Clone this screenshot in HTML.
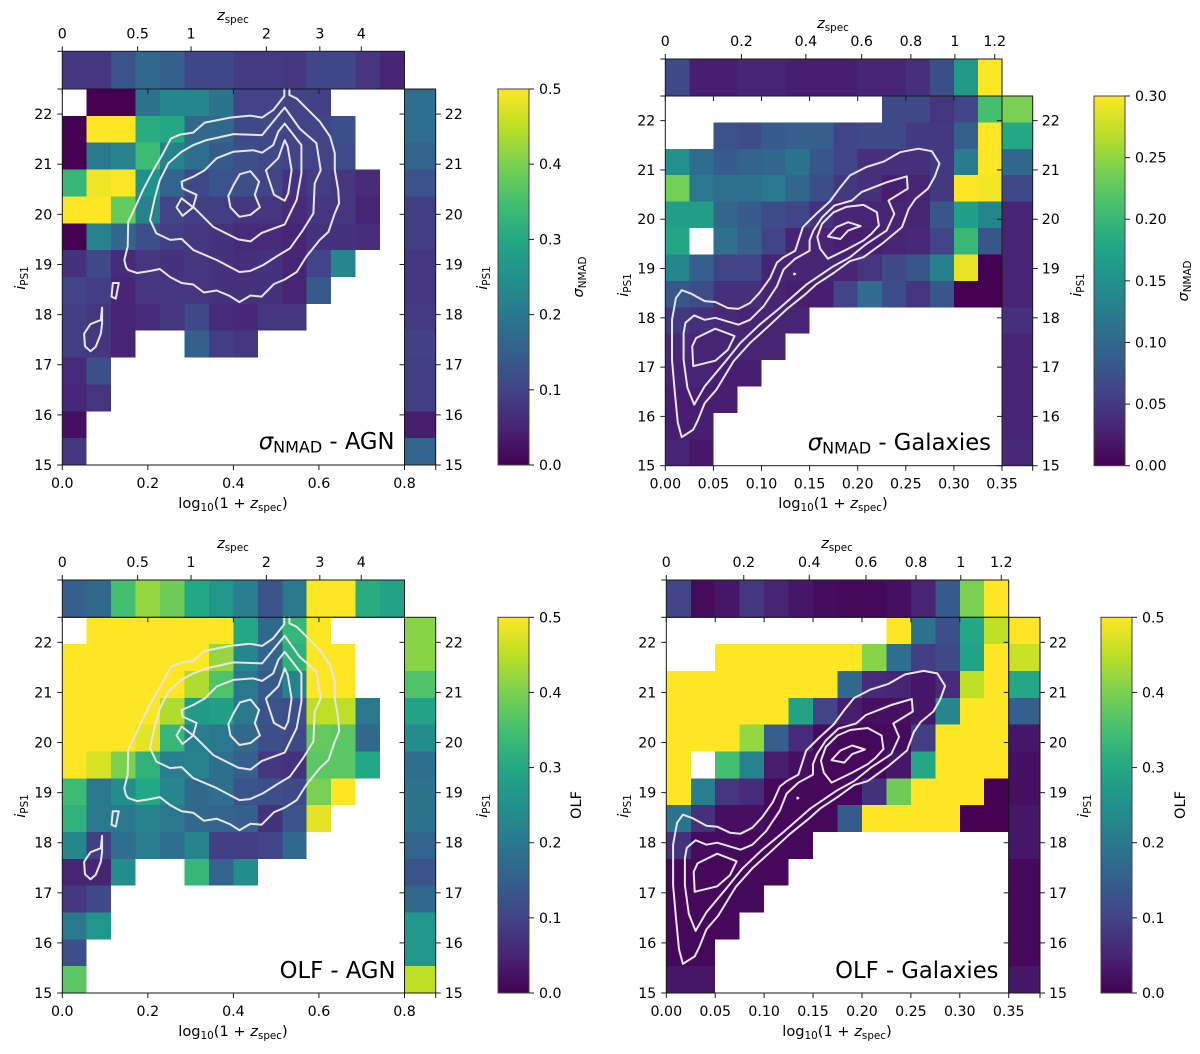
<!DOCTYPE html>
<html lang="en">
<head>
<meta charset="utf-8">
<title>Photo-z scatter and outlier fraction maps</title>
<style>
  html, body { margin: 0; padding: 0; background: #fff; }
  svg { display: block; }
  text { font-family: "DejaVu Sans", "Liberation Sans", sans-serif; font-size: 14.2px; fill: #000; }
  text.title { font-size: 14.6px; }
  text.title tspan.sub { font-size: 10.4px; }
  text.note { font-size: 22.7px; }
  text.note tspan.sub { font-size: 16px; }
</style>
</head>
<body>
<svg id="figure" xmlns="http://www.w3.org/2000/svg" width="1200" height="1054" viewBox="0 0 1200 1054">
  <defs>
    <linearGradient id="viridis-gradient" x1="0" y1="1" x2="0" y2="0">
      <stop offset="0" stop-color="#440154"/>
      <stop offset="0.1" stop-color="#482475"/>
      <stop offset="0.2" stop-color="#414487"/>
      <stop offset="0.3" stop-color="#355f8d"/>
      <stop offset="0.4" stop-color="#2a788e"/>
      <stop offset="0.5" stop-color="#21918c"/>
      <stop offset="0.6" stop-color="#22a884"/>
      <stop offset="0.7" stop-color="#44bf70"/>
      <stop offset="0.8" stop-color="#7ad151"/>
      <stop offset="0.9" stop-color="#bddf26"/>
      <stop offset="1" stop-color="#fde725"/>
    </linearGradient>
  </defs>
  <rect x="0" y="0" width="1200" height="1054" fill="#fff"/>

  <g id="panel-sigma-agn"></g>
  <g id="panel-sigma-gal"></g>
  <g id="panel-olf-agn"></g>
  <g id="panel-olf-gal"></g>

  <!-- top axis titles -->
  <text class="title" x="233" y="20" text-anchor="middle"><tspan font-style="italic">z</tspan><tspan class="sub" dy="3">spec</tspan></text>
  <text class="title" x="833" y="28" text-anchor="middle"><tspan font-style="italic">z</tspan><tspan class="sub" dy="3">spec</tspan></text>
  <text class="title" x="233" y="548" text-anchor="middle"><tspan font-style="italic">z</tspan><tspan class="sub" dy="3">spec</tspan></text>
  <text class="title" x="837" y="548" text-anchor="middle"><tspan font-style="italic">z</tspan><tspan class="sub" dy="3">spec</tspan></text>

  <!-- bottom axis titles -->
  <text class="title" x="233" y="508" text-anchor="middle">log<tspan class="sub" dy="3">10</tspan><tspan dy="-3">(1 + </tspan><tspan font-style="italic">z</tspan><tspan class="sub" dy="3">spec</tspan><tspan dy="-3">)</tspan></text>
  <text class="title" x="833" y="508" text-anchor="middle">log<tspan class="sub" dy="3">10</tspan><tspan dy="-3">(1 + </tspan><tspan font-style="italic">z</tspan><tspan class="sub" dy="3">spec</tspan><tspan dy="-3">)</tspan></text>
  <text class="title" x="233" y="1036" text-anchor="middle">log<tspan class="sub" dy="3">10</tspan><tspan dy="-3">(1 + </tspan><tspan font-style="italic">z</tspan><tspan class="sub" dy="3">spec</tspan><tspan dy="-3">)</tspan></text>
  <text class="title" x="837" y="1036" text-anchor="middle">log<tspan class="sub" dy="3">10</tspan><tspan dy="-3">(1 + </tspan><tspan font-style="italic">z</tspan><tspan class="sub" dy="3">spec</tspan><tspan dy="-3">)</tspan></text>

  <!-- y axis titles -->
  <text class="title" transform="translate(25 278) rotate(-90)" text-anchor="middle"><tspan font-style="italic">i</tspan><tspan class="sub" dy="3">PS1</tspan></text>
  <text class="title" transform="translate(487 278) rotate(-90)" text-anchor="middle"><tspan font-style="italic">i</tspan><tspan class="sub" dy="3">PS1</tspan></text>
  <text class="title" transform="translate(628 285) rotate(-90)" text-anchor="middle"><tspan font-style="italic">i</tspan><tspan class="sub" dy="3">PS1</tspan></text>
  <text class="title" transform="translate(1081 285) rotate(-90)" text-anchor="middle"><tspan font-style="italic">i</tspan><tspan class="sub" dy="3">PS1</tspan></text>
  <text class="title" transform="translate(25 806) rotate(-90)" text-anchor="middle"><tspan font-style="italic">i</tspan><tspan class="sub" dy="3">PS1</tspan></text>
  <text class="title" transform="translate(487 806) rotate(-90)" text-anchor="middle"><tspan font-style="italic">i</tspan><tspan class="sub" dy="3">PS1</tspan></text>
  <text class="title" transform="translate(628 806) rotate(-90)" text-anchor="middle"><tspan font-style="italic">i</tspan><tspan class="sub" dy="3">PS1</tspan></text>
  <text class="title" transform="translate(1088 806) rotate(-90)" text-anchor="middle"><tspan font-style="italic">i</tspan><tspan class="sub" dy="3">PS1</tspan></text>

  <!-- colorbar titles -->
  <text class="title" transform="translate(583 277) rotate(-90)" text-anchor="middle"><tspan font-style="italic">σ</tspan><tspan class="sub" dy="3">NMAD</tspan></text>
  <text class="title" transform="translate(1188 281) rotate(-90)" text-anchor="middle"><tspan font-style="italic">σ</tspan><tspan class="sub" dy="3">NMAD</tspan></text>
  <text class="title" transform="translate(581 805) rotate(-90)" text-anchor="middle">OLF</text>
  <text class="title" transform="translate(1185 805) rotate(-90)" text-anchor="middle">OLF</text>

  <!-- panel annotations -->
  <text class="note" x="394.5" y="449" text-anchor="end"><tspan font-style="italic">σ</tspan><tspan class="sub" dy="3.6">NMAD</tspan><tspan dy="-3.6"> - AGN</tspan></text>
  <text class="note" x="991" y="450" text-anchor="end"><tspan font-style="italic">σ</tspan><tspan class="sub" dy="3.6">NMAD</tspan><tspan dy="-3.6"> - Galaxies</tspan></text>
  <text class="note" x="395.5" y="978" text-anchor="end">OLF - AGN</text>
  <text class="note" x="998.5" y="978" text-anchor="end">OLF - Galaxies</text>
</svg>

<script>
const n = null;

/* ---------- tick values ---------- */
const yTicks = [15, 16, 17, 18, 19, 20, 21, 22];
const xTicksAgn = [0, 0.2, 0.4, 0.6, 0.8];
const xTicksGal = [0, 0.05, 0.10, 0.15, 0.20, 0.25, 0.30, 0.35];
const zTicksAgn = [0, 0.5, 1, 2, 3, 4];
const zTicksGal = [0, 0.2, 0.4, 0.6, 0.8, 1, 1.2];
const cbarTicksHalf = [0, 0.1, 0.2, 0.3, 0.4, 0.5];
const cbarTicksSigmaGal = [0, 0.05, 0.10, 0.15, 0.20, 0.25, 0.30];

/* ---------- sigma_NMAD, AGN (rows run from i = 22.5 down to 15) ---------- */
const sigmaAgnGrid = [
  [n, 0, 0, .19, .23, .23, .19, .10, .10, .10, .095, n, n, n],
  [0, .5, .5, .31, .30, .17, .17, .11, .11, .10, .10, .12, n, n],
  [0, .2, .22, .34, .22, .18, .14, .12, .11, .10, .10, .115, n, n],
  [.33, .49, .5, .25, .16, .11, .13, .12, .10, .07, .09, .08, .06, n],
  [.5, .5, .38, .22, .10, .09, .09, .08, .08, .06, .08, .08, .05, n],
  [0, .22, .16, .12, .09, .08, .07, .06, .06, .05, .07, .07, .065, n],
  [.07, .11, .06, .08, .07, .08, .07, .065, .07, .05, .10, .23, n, n],
  [.10, .09, .05, .08, .08, .08, .07, .07, .07, .05, .14, n, n, n],
  [.09, .08, .05, .06, .08, .11, .06, .055, .08, .08, n, n, n, n],
  [.09, .08, .05, n, n, .15, .09, .08, n, n, n, n, n, n],
  [.06, .12, n, n, n, n, n, n, n, n, n, n, n, n],
  [.055, .075, n, n, n, n, n, n, n, n, n, n, n, n],
  [.02, n, n, n, n, n, n, n, n, n, n, n, n, n],
  [.08, n, n, n, n, n, n, n, n, n, n, n, n, n]
];
const sigmaAgnTop = [.08, .08, .13, .17, .15, .105, .105, .085, .085, .08, .105, .105, .075, .05];
const sigmaAgnRight = [.18, .18, .16, .125, .09, .09, .08, .08, .085, .095, .09, .09, .04, .16];

/* ---------- sigma_NMAD, galaxies ---------- */
const sigmaGalGrid = [
  [n, n, n, n, n, n, n, n, n, .066, .066, .045, .06, .21],
  [n, n, .075, .07, .085, .09, .09, .06, .065, .065, .05, .05, .09, .30],
  [.15, .105, .085, .095, .10, .115, .08, .06, .04, .04, .04, .05, .125, .30],
  [.235, .12, .11, .11, .12, .10, .07, .05, .04, .025, .03, .05, .30, .295],
  [.165, .165, .10, .085, .07, .06, .04, .03, .03, .03, .03, .08, .17, .135],
  [.175, n, .11, .09, .06, .03, .03, .025, .025, .03, .035, .06, .20, .08],
  [.135, .09, .06, .06, .03, .03, .03, .03, .045, .065, .08, .13, .29, 0],
  [.08, .07, .04, .04, .03, .025, .025, .06, .105, .07, .045, .08, 0, 0],
  [.05, .04, .035, .03, .03, .03, n, n, n, n, n, n, n, n],
  [.035, .03, .03, .03, .03, n, n, n, n, n, n, n, n, n],
  [.03, .03, .025, .025, n, n, n, n, n, n, n, n, n, n],
  [.025, .025, .025, n, n, n, n, n, n, n, n, n, n, n],
  [.025, .025, n, n, n, n, n, n, n, n, n, n, n, n],
  [.03, .02, n, n, n, n, n, n, n, n, n, n, n, n]
];
const sigmaGalTop = [.065, .025, .025, .03, .03, .025, .025, .025, .03, .03, .04, .07, .16, .30];
const sigmaGalRight = [.24, .18, .10, .065, .03, .03, .03, .03, .04, .03, .03, .03, .03, .035];

/* ---------- outlier fraction, AGN ---------- */
const olfAgnGrid = [
  [n, .5, .5, .5, .5, .5, .5, .30, .17, .33, .5, n, n, n],
  [.5, .5, .5, .5, .5, .5, .42, .23, .16, .32, .5, .5, n, n],
  [.5, .5, .5, .5, .5, .44, .36, .20, .14, .22, .5, .5, n, n],
  [.5, .5, .5, .5, .44, .27, .28, .20, .13, .12, .45, .45, .20, n],
  [.5, .5, .5, .48, .33, .21, .20, .17, .12, .11, .38, .37, .17, n],
  [.5, .47, .40, .32, .21, .22, .18, .15, .08, .07, .37, .37, .30, n],
  [.34, .20, .24, .30, .23, .17, .18, .13, .12, .11, .40, .5, n, n],
  [.32, .20, .20, .22, .20, .17, .16, .15, .07, .13, .48, n, n, n],
  [.23, .09, .18, .21, .18, .22, .09, .09, .10, .17, n, n, n, n],
  [.05, .05, .24, n, n, .33, .16, .24, n, n, n, n, n, n],
  [.08, .11, n, n, n, n, n, n, n, n, n, n, n, n],
  [.20, .26, n, n, n, n, n, n, n, n, n, n, n, n],
  [.12, n, n, n, n, n, n, n, n, n, n, n, n, n],
  [.37, n, n, n, n, n, n, n, n, n, n, n, n, n]
];
const olfAgnTop = [.15, .17, .35, .42, .39, .30, .26, .21, .13, .20, .5, .5, .31, .29];
const olfAgnRight = [.41, .41, .36, .29, .24, .18, .19, .19, .16, .13, .17, .26, .26, .45];

/* ---------- outlier fraction, galaxies ---------- */
const olfGalGrid = [
  [n, n, n, n, n, n, n, n, n, .5, .19, .12, .30, .45],
  [n, n, .5, .5, .5, .5, .5, .5, .41, .18, .09, .11, .29, .5],
  [.5, .5, .5, .5, .5, .5, .5, .17, .06, .05, .03, .06, .45, .5],
  [.5, .5, .5, .5, .5, .29, .10, .04, .02, .02, .03, .23, .5, .5],
  [.5, .5, .5, .42, .15, .06, .015, .01, .01, .015, .09, .5, .5, .5],
  [.5, n, .35, .22, .04, .02, .01, .01, .01, .03, .30, .5, .5, .5],
  [.5, .21, .08, .06, .01, .01, .01, .01, .07, .39, .5, .5, .5, 0],
  [.19, .07, .02, .02, .01, .01, .01, .14, .5, .5, .5, .5, 0, 0],
  [.07, .015, .015, .01, .01, .01, n, n, n, n, n, n, n, n],
  [.01, .01, .01, .01, .01, n, n, n, n, n, n, n, n, n],
  [.01, .01, .01, .01, n, n, n, n, n, n, n, n, n, n],
  [.01, .01, .01, n, n, n, n, n, n, n, n, n, n, n],
  [.01, .01, n, n, n, n, n, n, n, n, n, n, n, n],
  [.03, .03, n, n, n, n, n, n, n, n, n, n, n, n]
];
const olfGalTop = [.10, .015, .03, .08, .05, .03, .015, .01, .01, .02, .05, .14, .40, .5];
const olfGalRight = [.5, .46, .30, .15, .03, .02, .02, .03, .03, .01, .01, .01, .01, .03];

/* ---------- density contours: [log10(1+z), i] ---------- */
const agnContourLevel1 = [[.519,22.5],[.519,22.36],[.493,22.08],[.467,21.93],[.439,21.97],[.392,21.93],[.333,21.83],[.306,21.63],[.275,21.59],[.254,21.51],[.236,21.22],[.213,20.88],[.189,20.49],[.171,20.15],[.154,19.85],[.153,19.36],[.145,19.09],[.149,18.95],[.154,18.89],[.175,18.83],[.205,18.87],[.228,18.91],[.252,18.75],[.279,18.63],[.306,18.60],[.331,18.44],[.361,18.48],[.392,18.37],[.414,18.25],[.44,18.38],[.466,18.36],[.495,18.61],[.52,18.70],[.548,18.85],[.571,19.16],[.602,19.49],[.622,19.65],[.637,20.02],[.647,20.22],[.645,20.49],[.637,20.88],[.637,21.22],[.626,21.55],[.602,21.85],[.575,22.08],[.548,22.31],[.531,22.38],[.531,22.5]];
const agnContourLevel2 = [[.52,22.13],[.467,21.58],[.4,21.6],[.337,21.48],[.306,21.38],[.279,21.25],[.248,21.02],[.228,20.68],[.217,20.35],[.205,19.89],[.22,19.62],[.252,19.49],[.279,19.51],[.306,19.29],[.361,19.09],[.414,18.85],[.439,18.87],[.47,18.99],[.501,19.16],[.532,19.32],[.563,19.69],[.587,20.02],[.59,20.62],[.604,20.88],[.594,21.42],[.555,21.71],[.52,22.13]];
const agnContourLevel3 = [[.52,21.81],[.505,21.65],[.493,21.38],[.467,21.23],[.446,21.28],[.4,21.25],[.361,21.12],[.333,20.88],[.306,20.75],[.279,20.65],[.281,20.52],[.314,20.39],[.306,20.15],[.353,19.75],[.411,19.5],[.44,19.46],[.466,19.63],[.52,19.8],[.548,20.29],[.559,20.82],[.559,21.38],[.52,21.81]];
const agnContourIsland = [[.279,20.32],[.267,20.14],[.281,19.97],[.306,20.14],[.279,20.32]];
const agnContourPeakLeft = [[.415,20.8],[.44,20.86],[.46,20.65],[.45,20.39],[.462,20.14],[.44,19.99],[.414,19.95],[.393,20.14],[.388,20.37],[.4,20.58],[.415,20.8]];
const agnContourPeakRight = [[.52,21.48],[.527,21.35],[.536,20.88],[.528,20.42],[.52,20.27],[.495,20.39],[.481,20.75],[.476,20.88],[.505,21.12],[.52,21.48]];
const agnContourLowSmall = [[.118,18.63],[.132,18.63],[.125,18.32],[.115,18.36],[.118,18.63]];
const agnContourLowLarge = [[.093,18.14],[.093,17.82],[.09,17.62],[.078,17.36],[.066,17.27],[.053,17.37],[.051,17.62],[.066,17.81],[.09,17.89],[.093,18.14]];
const agnContours = [agnContourLevel1, agnContourLevel2, agnContourLevel3, agnContourIsland, agnContourPeakLeft, agnContourPeakRight, agnContourLowSmall, agnContourLowLarge];

const galContourLevel1 = [[.017,15.58],[.013,15.87],[.010,16.47],[.007,17.15],[.007,17.96],[.011,18.40],[.017,18.56],[.027,18.49],[.041,18.34],[.052,18.32],[.065,18.20],[.076,18.18],[.088,18.30],[.098,18.51],[.109,18.81],[.116,19.12],[.123,19.23],[.135,19.36],[.143,19.84],[.157,20.11],[.171,20.36],[.182,20.65],[.192,20.89],[.209,21.06],[.227,21.17],[.244,21.36],[.263,21.43],[.277,21.38],[.285,21.13],[.280,20.86],[.273,20.62],[.260,20.41],[.253,20.21],[.246,19.84],[.227,19.53],[.206,19.23],[.192,19.15],[.175,18.91],[.157,18.68],[.145,18.47],[.126,18.17],[.109,17.86],[.088,17.49],[.071,17.12],[.053,16.54],[.041,16.27],[.034,15.93],[.029,15.73],[.017,15.58]];
const galContourLevel2 = [[.030,16.24],[.023,16.58],[.019,17.15],[.019,17.69],[.021,17.90],[.030,18.05],[.041,17.96],[.052,18.0],[.076,17.86],[.088,17.96],[.102,18.23],[.116,18.64],[.123,18.98],[.135,19.2],[.150,19.36],[.150,19.57],[.154,19.77],[.163,20.04],[.176,20.28],[.194,20.38],[.204,20.55],[.230,20.75],[.251,20.87],[.252,20.62],[.232,20.38],[.238,20.11],[.230,19.77],[.209,19.5],[.192,19.23],[.175,19.05],[.147,18.68],[.119,18.2],[.098,17.86],[.078,17.49],[.064,17.15],[.041,16.61],[.030,16.24]];
const galContourLevel3 = [[.169,19.2],[.161,19.4],[.158,19.64],[.163,19.91],[.175,20.14],[.188,20.25],[.206,20.29],[.22,20.14],[.222,19.87],[.214,19.7],[.206,19.57],[.19,19.4],[.169,19.2]];
const galContourPeak = [[.178,19.84],[.19,19.94],[.203,19.86],[.19,19.77],[.182,19.6],[.169,19.65],[.178,19.84]];
const galContourLowPeak = [[.029,17.02],[.028,17.42],[.032,17.59],[.052,17.78],[.072,17.63],[.065,17.35],[.052,17.13],[.029,17.02]];
const galContourSpeck = [[.134,18.88],[.135,18.89],[.134,18.90],[.134,18.88]];
const galContours = [galContourLevel1, galContourLevel2, galContourLevel3, galContourPeak, galContourLowPeak, galContourSpeck];

/* ---------- colormap ---------- */
const viridisStops = [[68,1,84],[72,36,117],[65,68,135],[53,95,141],[42,120,142],[33,145,140],[34,168,132],[68,191,112],[122,209,81],[189,223,38],[253,231,37]];

function viridis(t) {
  const c = Math.max(0, Math.min(1, t)) * (viridisStops.length - 1);
  const i = Math.min(Math.floor(c), viridisStops.length - 2);
  const f = c - i;
  const a = viridisStops[i], b = viridisStops[i + 1];
  return 'rgb(' + a.map((v, k) => Math.round(v + (b[k] - v) * f)).join(',') + ')';
}

const SVG_NS = 'http://www.w3.org/2000/svg';
const I_FAINT = 15, I_BRIGHT = 22.5;
const INK = '#1a1a1a';

function make(parent, tag, attrs) {
  const el = document.createElementNS(SVG_NS, tag);
  for (const key in attrs) el.setAttribute(key, attrs[key]);
  parent.appendChild(el);
  return el;
}

function drawPanel(p) {
  const root = document.getElementById(p.id);
  const xAxis = v => p.left + (v / p.xMax) * (p.right - p.left);
  const yAxis = v => p.top + ((I_BRIGHT - v) / (I_BRIGHT - I_FAINT)) * (p.bottom - p.top);
  const zAxis = z => xAxis(Math.log10(1 + z));
  const cbarAxis = v => p.cbarBottom + (v / p.vmax) * (p.cbarTop - p.cbarBottom);
  const colOf = v => viridis(v / p.vmax);
  const nCols = p.grid[0].length;
  const nRows = p.grid.length;
  const xBin = p.xMax / nCols;
  const yBin = (I_BRIGHT - I_FAINT) / nRows;

  /* main heatmap */
  p.grid.forEach((row, r) => {
    row.forEach((value, c) => {
      if (value === null) return;
      const x0 = xAxis(c * xBin), x1 = xAxis((c + 1) * xBin);
      const y0 = yAxis(I_BRIGHT - r * yBin), y1 = yAxis(I_BRIGHT - (r + 1) * yBin);
      const cell = make(root, 'rect', { x: x0, y: y0, width: x1 - x0, height: y1 - y0, fill: colOf(value), 'shape-rendering': 'crispEdges' });
      
      
    });
  });

  /* top marginal strip */
  p.topValues.forEach((value, c) => {
    const x0 = xAxis(c * xBin), x1 = xAxis((c + 1) * xBin);
    const cell = make(root, 'rect', { x: x0, y: p.topStrip, width: x1 - x0, height: p.top - p.topStrip, fill: colOf(value), 'shape-rendering': 'crispEdges' });
    
    
  });

  /* right marginal strip */
  p.rightValues.forEach((value, r) => {
    const y0 = yAxis(I_BRIGHT - r * yBin), y1 = yAxis(I_BRIGHT - (r + 1) * yBin);
    const cell = make(root, 'rect', { x: p.right, y: y0, width: p.rightStrip - p.right, height: y1 - y0, fill: colOf(value), 'shape-rendering': 'crispEdges' });
    
    
  });

  /* contours */
  p.contours.forEach(line => {
    const pts = line.map(pt => xAxis(pt[0]).toFixed(1) + ',' + yAxis(pt[1]).toFixed(1)).join(' ');
    const contour = make(root, 'polyline', { points: pts, fill: 'none', stroke: '#e6e6e6', 'stroke-width': 2, 'stroke-linejoin': 'round', 'stroke-linecap': 'round' });
    
    
  });

  /* axes frames */
  [[p.left, p.top, p.right - p.left, p.bottom - p.top, 'main-axes-frame'],
   [p.left, p.topStrip, p.right - p.left, p.top - p.topStrip, 'top-marginal-frame'],
   [p.right, p.top, p.rightStrip - p.right, p.bottom - p.top, 'right-marginal-frame']].forEach(f => {
    const frame = make(root, 'rect', { x: f[0], y: f[1], width: f[2], height: f[3], fill: 'none', stroke: INK, 'stroke-width': 1 });
    
    
  });

  function tick(x1, y1, x2, y2) {
    const t = make(root, 'line', { x1: x1, y1: y1, x2: x2, y2: y2, stroke: INK, 'stroke-width': 1 });
    
    
  }
  function label(x, y, anchor, value) {
    const t = make(root, 'text', { x: x, y: y, 'text-anchor': anchor });
    
    
    t.textContent = value;
  }

  /* bottom x axis plus inner ticks under the top strip */
  p.xTicks.forEach(v => {
    const x = xAxis(v);
    tick(x, p.bottom, x, p.bottom + 5);
    tick(x, p.top, x, p.top + 5);
    label(x, p.bottom + 23, 'middle', v.toFixed(p.xDecimals));
  });

  /* top z axis */
  p.zTicks.forEach(z => {
    const x = zAxis(z);
    tick(x, p.topStrip, x, p.topStrip - 5);
    label(x, p.topStrip - 13, 'middle', String(z));
  });

  /* left and right i axes */
  yTicks.forEach(v => {
    const y = yAxis(v);
    tick(p.left, y, p.left - 5, y);
    tick(p.right, y, p.right - 5, y);
    tick(p.rightStrip, y, p.rightStrip + 5, y);
    label(p.left - 10, y + 5, 'end', String(v));
    label(p.rightStrip + 9, y + 5, 'start', String(v));
  });

  /* strip end ticks */
  tick(p.left, p.topStrip, p.left - 5, p.topStrip);
  tick(p.left, p.top, p.left - 5, p.top);
  tick(p.rightStrip, p.bottom, p.rightStrip, p.bottom + 5);

  /* colorbar */
  const bar = make(root, 'rect', { x: p.cbarLeft, y: p.cbarTop, width: p.cbarRight - p.cbarLeft, height: p.cbarBottom - p.cbarTop, fill: 'url(#viridis-gradient)', stroke: '#444', 'stroke-width': 1 });
  
  
  p.cbarTicks.forEach(v => {
    const y = cbarAxis(v);
    tick(p.cbarRight, y, p.cbarRight + 5, y);
    label(p.cbarRight + 10, y + 5, 'start', v.toFixed(p.cbarDecimals));
  });
}

drawPanel({
  id: 'panel-sigma-agn', left: 62.3, right: 404.5, top: 89, bottom: 465, topStrip: 51.3, rightStrip: 435.7,
  cbarLeft: 498, cbarRight: 529, cbarTop: 89, cbarBottom: 465,
  xMax: 0.8, xDecimals: 1, xTicks: xTicksAgn, zTicks: zTicksAgn,
  vmax: 0.5, cbarTicks: cbarTicksHalf, cbarDecimals: 1,
  grid: sigmaAgnGrid, topValues: sigmaAgnTop, rightValues: sigmaAgnRight, contours: agnContours
});
drawPanel({
  id: 'panel-sigma-gal', left: 665.3, right: 1002, top: 96, bottom: 465.7, topStrip: 59, rightStrip: 1032.7,
  cbarLeft: 1094, cbarRight: 1125, cbarTop: 96, cbarBottom: 465.7,
  xMax: 0.35, xDecimals: 2, xTicks: xTicksGal, zTicks: zTicksGal,
  vmax: 0.3, cbarTicks: cbarTicksSigmaGal, cbarDecimals: 2,
  grid: sigmaGalGrid, topValues: sigmaGalTop, rightValues: sigmaGalRight, contours: galContours
});
drawPanel({
  id: 'panel-olf-agn', left: 62.3, right: 404.5, top: 617.3, bottom: 993, topStrip: 580, rightStrip: 435.7,
  cbarLeft: 498, cbarRight: 529, cbarTop: 617.3, cbarBottom: 993,
  xMax: 0.8, xDecimals: 1, xTicks: xTicksAgn, zTicks: zTicksAgn,
  vmax: 0.5, cbarTicks: cbarTicksHalf, cbarDecimals: 1,
  grid: olfAgnGrid, topValues: olfAgnTop, rightValues: olfAgnRight, contours: agnContours
});
drawPanel({
  id: 'panel-olf-gal', left: 666.3, right: 1008.7, top: 617.3, bottom: 993, topStrip: 580, rightStrip: 1040,
  cbarLeft: 1101, cbarRight: 1132, cbarTop: 617.3, cbarBottom: 993,
  xMax: 0.35, xDecimals: 2, xTicks: xTicksGal, zTicks: zTicksGal,
  vmax: 0.5, cbarTicks: cbarTicksHalf, cbarDecimals: 1,
  grid: olfGalGrid, topValues: olfGalTop, rightValues: olfGalRight, contours: galContours
});
</script>
</body>
</html>
